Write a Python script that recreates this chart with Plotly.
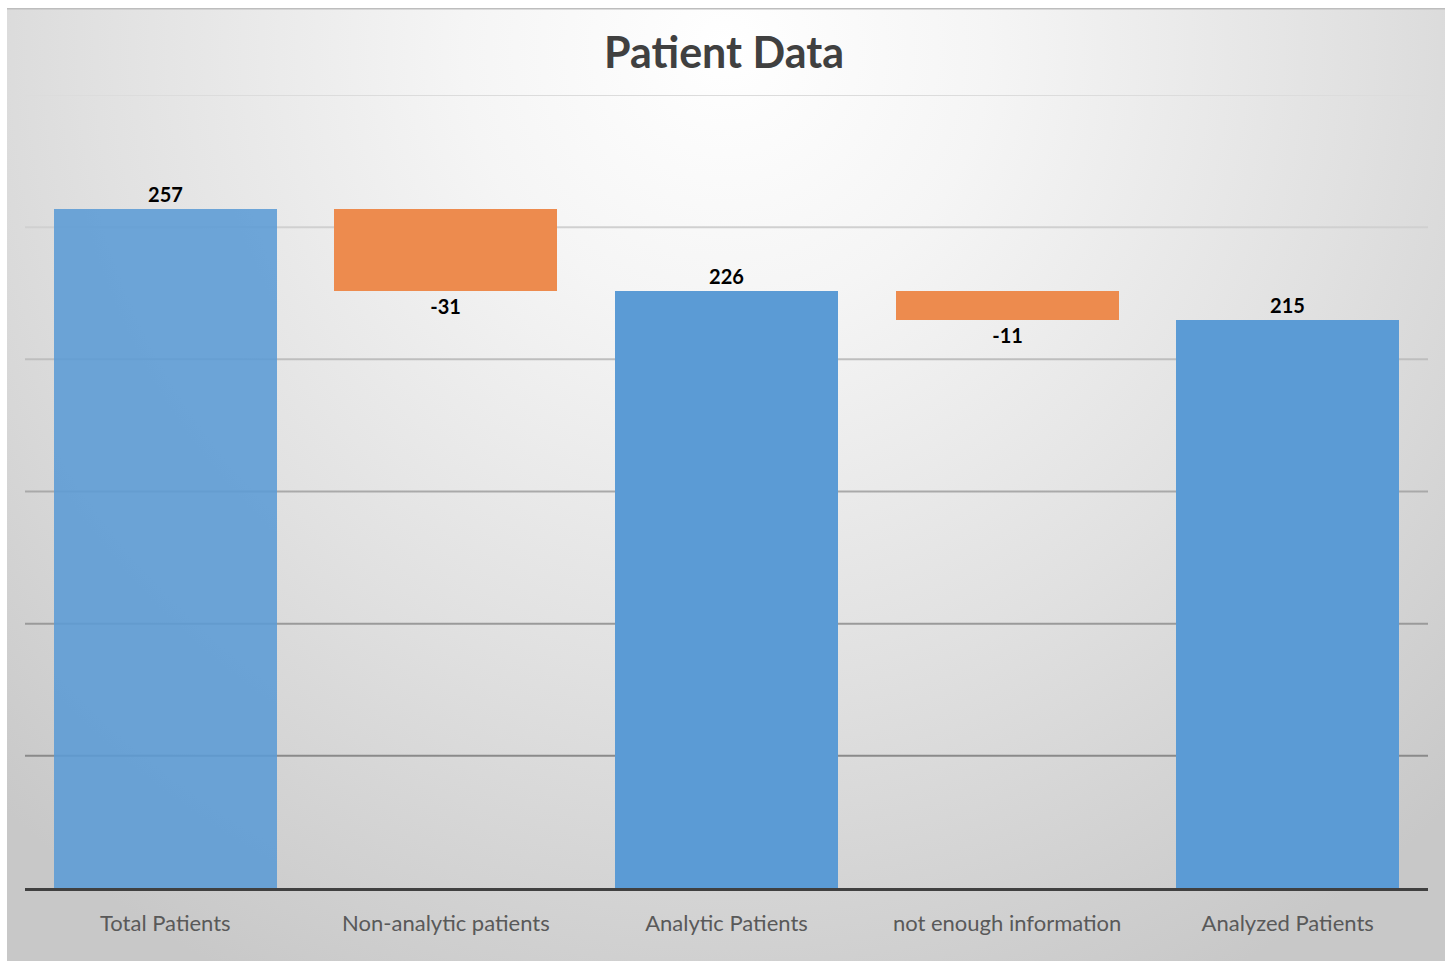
import base64
import plotly.graph_objects as go

# Waterfall data: starting total, removals, and resulting totals
categories = ["Total Patients", "Non-analytic patients", "Analytic Patients",
              "not enough information", "Analyzed Patients"]
measures = ["absolute", "relative", "total", "relative", "total"]
changes = [257, -31, None, -11, None]
labels = ["257", "-31", "226", "-11", "215"]
grid_values = [0, 50, 100, 150, 200, 250, 300]
grid_colors = ["#404040", "#8a8a8a", "#9a9a9a", "#a9a9a9", "#bebebe", "#d0d0d0", "#dcdcdc"]

# running totals -> bar heights and bases
heights, bases, running = [], [], 0
for m, c in zip(measures, changes):
    if m == "absolute":
        running = c
        heights.append(c); bases.append(0)
    elif m == "relative":
        heights.append(c); bases.append(running)
        running += c
    else:
        heights.append(running); bases.append(0)

blue_first = "rgba(91,155,213,0.88)"
blue = "#5b9bd5"
orange = "#ed8b4e"
colors = [blue_first if i == 0 else (orange if m == "relative" else blue)
          for i, m in enumerate(measures)]

W, H = 1448, 963
ML, MR, MT, MB = 25, 20, 95, 75

fig = go.Figure(go.Bar(
    x=categories, y=heights, base=bases,
    marker=dict(color=colors, line=dict(width=0)),
    width=0.795,
    text=labels, textposition="outside",
    textfont=dict(family="Lato, sans-serif", size=20, color="#000000", weight="bold"),
    cliponaxis=False, hoverinfo="skip",
))

# horizontal gridlines, darker towards the baseline
for v, col in zip(grid_values[1:], grid_colors[1:]):
    fig.add_shape(type="line", xref="paper", yref="y", x0=0, x1=1, y0=v, y1=v,
                  line=dict(color=col, width=2), layer="below")

# soft radial background of the chart card
svg = (
    '<svg xmlns="http://www.w3.org/2000/svg" width="1438" height="953">'
    '<defs><radialGradient id="g" gradientUnits="userSpaceOnUse" cx="719" cy="40" r="1050">'
    '<stop offset="0" stop-color="#ffffff"/>'
    '<stop offset="0.25" stop-color="#f5f5f5"/>'
    '<stop offset="0.6" stop-color="#e1e1e1"/>'
    '<stop offset="1" stop-color="#c8c8c8"/>'
    '</radialGradient></defs>'
    '<rect width="1438" height="953" fill="url(#g)"/>'
    '<rect x="0" y="0" width="1438" height="1.5" fill="#bdbdbd"/>'
    '</svg>'
)
src = "data:image/svg+xml;base64," + base64.b64encode(svg.encode()).decode()
pw, ph = W - ML - MR, H - MT - MB
x_left, y_top, x_right, y_bot = 7, 8, 1445, 961
fig.add_layout_image(
    source=src, xref="paper", yref="paper",
    x=(x_left - ML) / pw, y=(H - MB - y_top) / ph,
    sizex=(x_right - x_left) / pw, sizey=(y_bot - y_top) / ph,
    xanchor="left", yanchor="top", sizing="stretch", layer="below",
)

fig.update_layout(
    width=W, height=H,
    margin=dict(l=ML, r=MR, t=MT, b=MB),
    paper_bgcolor="#ffffff", plot_bgcolor="rgba(0,0,0,0)",
    showlegend=False, bargap=0,
    title=dict(text="<b>Patient Data</b>", x=0.5, xanchor="center", y=1 - 53 / H, yanchor="middle",
               font=dict(family="Lato, sans-serif", size=43, color="#404040")),
    xaxis=dict(showgrid=False, showline=True, linecolor="#404040", linewidth=3,
               ticks="", ticklabelstandoff=14,
               tickfont=dict(family="Lato, sans-serif", size=22, color="#595959"),
               range=[-0.5, 4.5], fixedrange=True),
    yaxis=dict(range=[0, 300], showgrid=False, zeroline=False, showticklabels=False,
               tickvals=grid_values, fixedrange=True),
)

fig.write_html("out.html")
